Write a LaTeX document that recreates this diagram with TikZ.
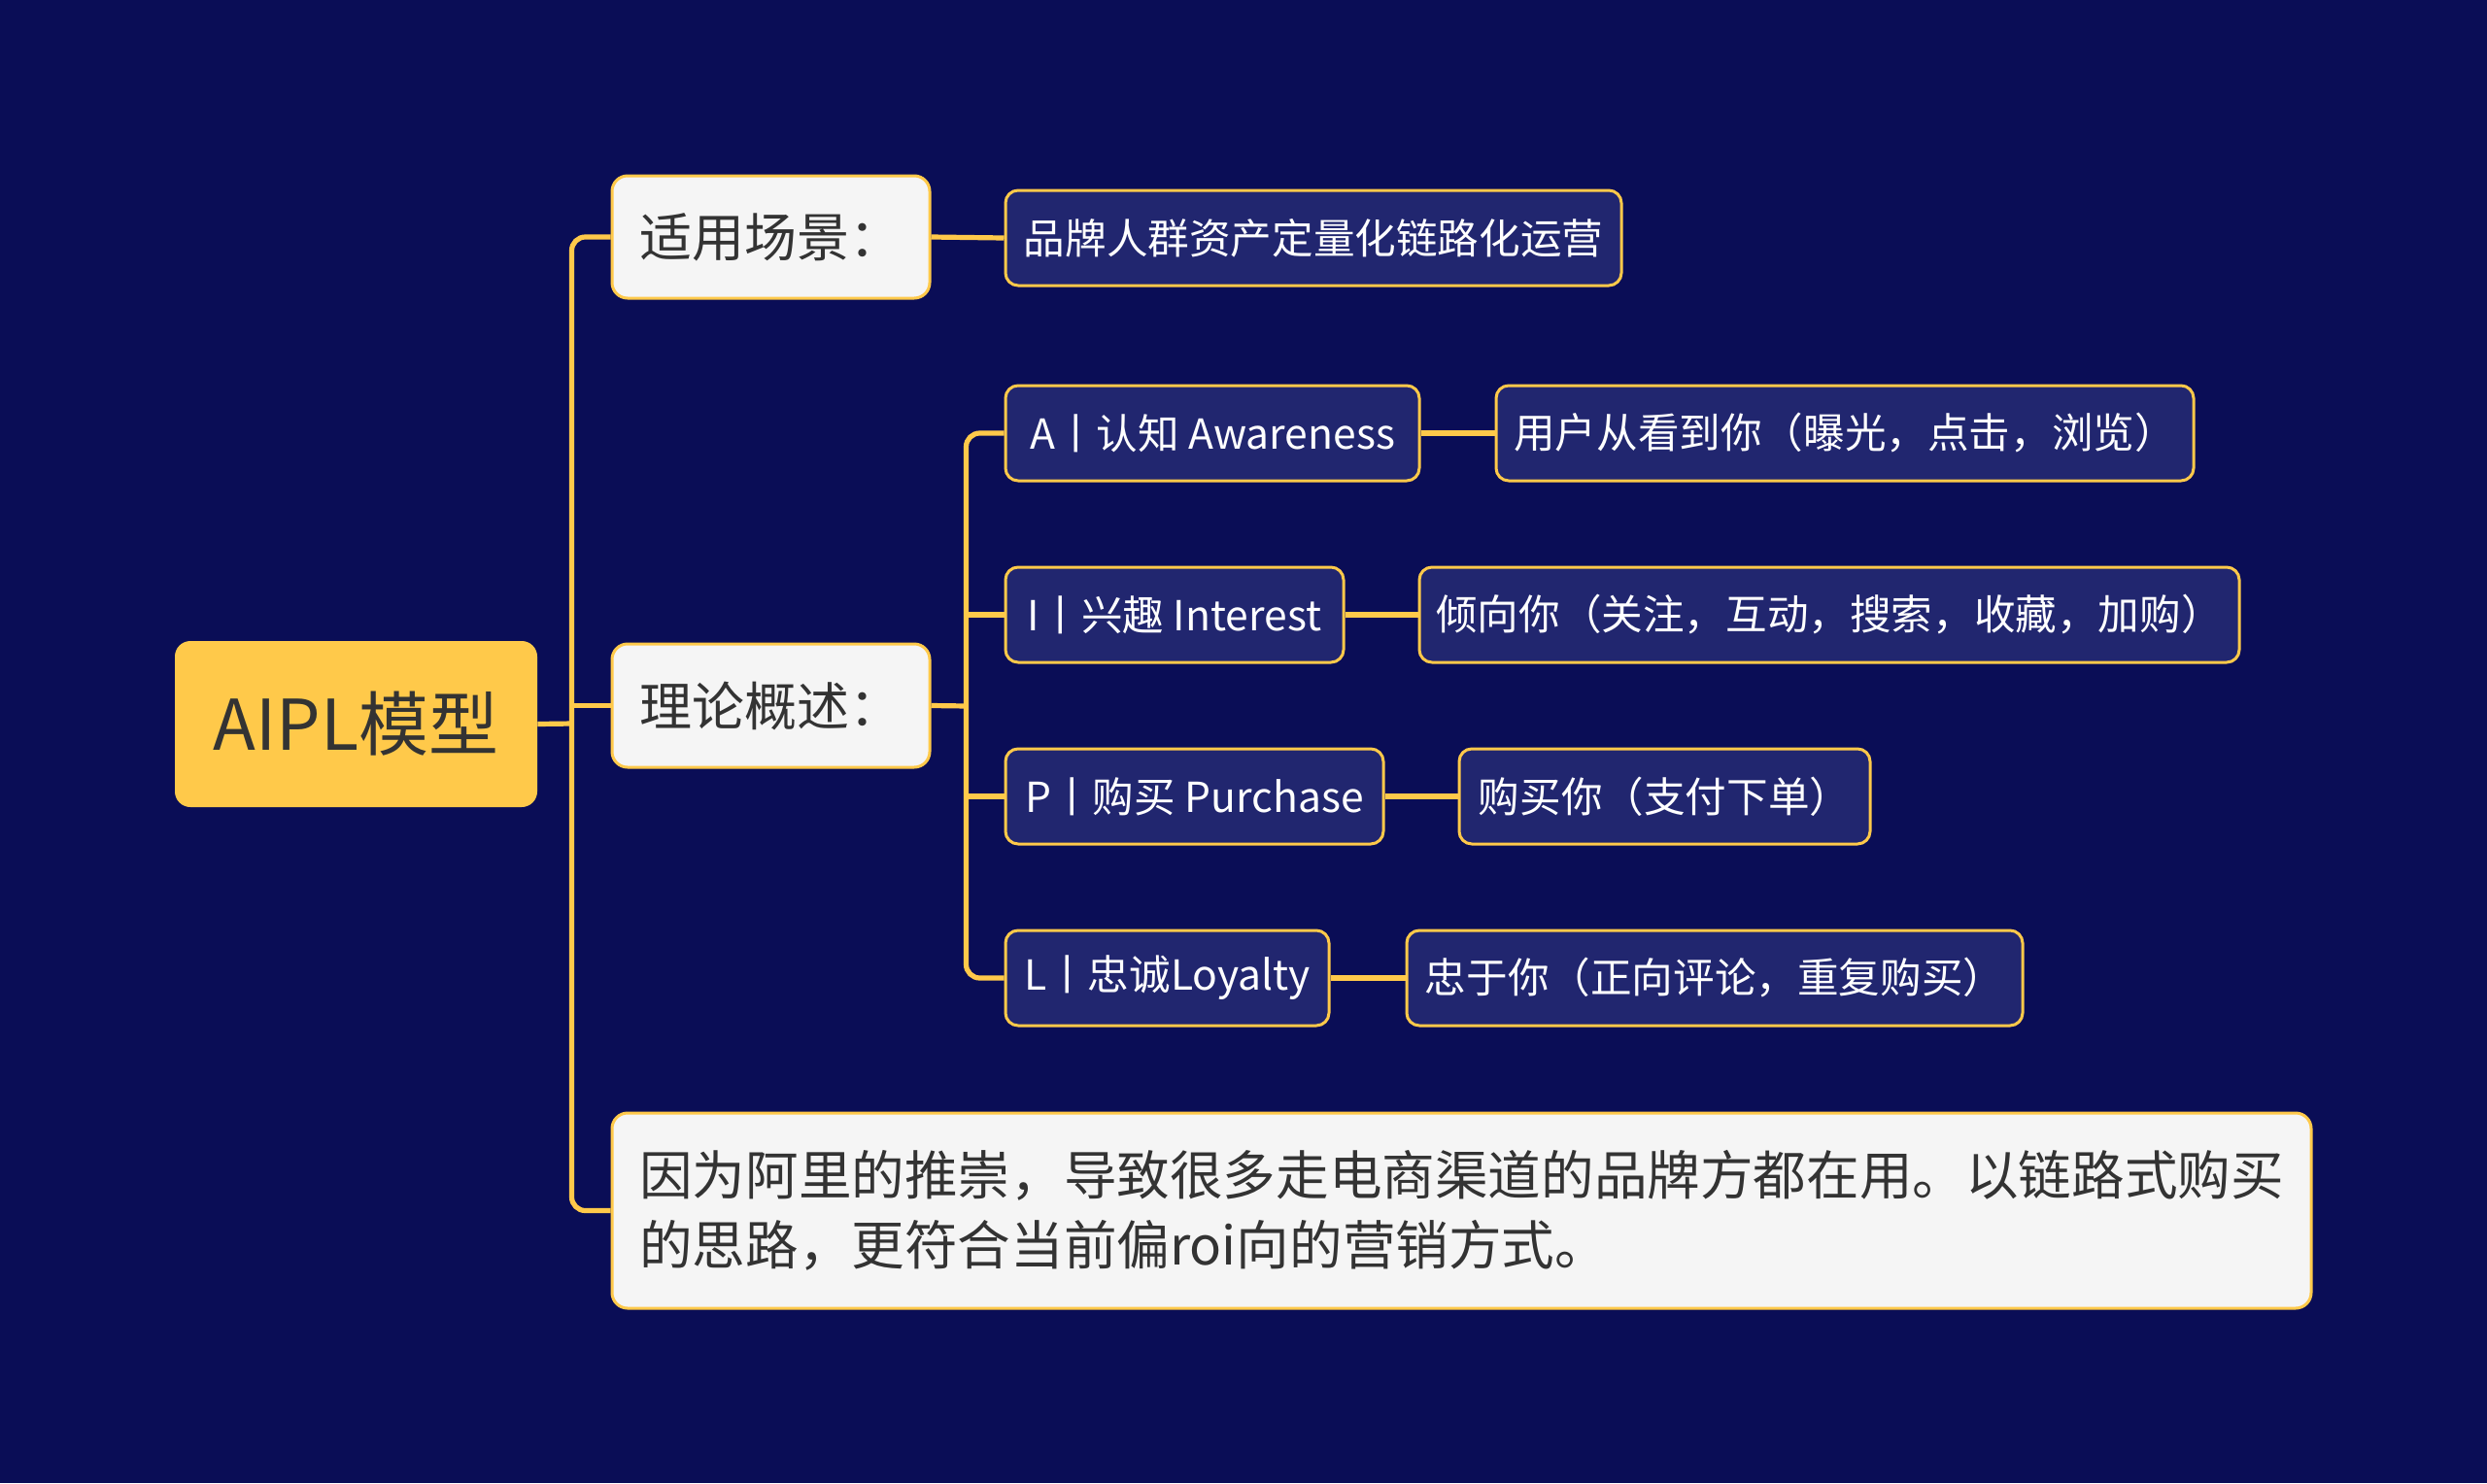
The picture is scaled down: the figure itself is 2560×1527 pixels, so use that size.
\documentclass[tikz,border=0pt]{standalone}
\usepackage{fontspec}
\setmainfont{Noto Sans CJK SC}
\definecolor{bgc}{HTML}{0A0D56}
\definecolor{yel}{HTML}{FFC94A}
\definecolor{lvtwo}{HTML}{21266F}
\definecolor{lite}{HTML}{F5F5F5}
\definecolor{dark}{HTML}{333333}
\tikzset{
  rootbox/.style={fill=yel, rounded corners=8pt, text=dark, inner sep=0pt,
    font=\fontsize{36}{42}\selectfont},
  lvone/.style={fill=lite, draw=yel, line width=1.5pt, rounded corners=8pt, text=dark,
    inner sep=0pt, font=\fontsize{27}{34}\selectfont},
  bigbox/.style={fill=lite, draw=yel, line width=1.5pt, rounded corners=8pt, text=dark,
    inner sep=0pt, align=left, font=\fontsize{27.3}{36}\selectfont},
  lvtwobox/.style={fill=lvtwo, draw=yel, line width=1.5pt, rounded corners=6.5pt, text=white,
    inner sep=0pt, minimum height=49pt, font=\fontsize{21.3}{26}\selectfont},
  link/.style={draw=yel, line width=2.6pt, rounded corners=7pt},
}
\begin{document}
\begin{tikzpicture}[x=0.5pt,y=-0.5pt]
\fill[bgc] (0,0) rectangle (2560,1527);
\useasboundingbox (0,0) rectangle (2560,1527);

\coordinate (trA) at (590,745);
\coordinate (trB) at (996,727);

\node[rootbox, minimum width=186.5pt, minimum height=85.5pt] (root) at (366.5,745.5) {AIPL模型};
\node[lvone, minimum width=163.5pt, minimum height=63pt] (s1) at (793.5,244) {适用场景：};
\node[lvone, minimum width=163.5pt, minimum height=63.5pt] (t2) at (793.5,726.5) {理论概述：};
\node[bigbox, minimum width=874.5pt, minimum height=100.5pt] (bot) at (1504.5,1246.5)
  {因为阿里的推崇，导致很多走电商渠道的品牌方都在用。以链路式购买\\的思路，更符合当前偏roi向的营销方式。};

\node[lvtwobox, minimum width=317pt] (b1) at (1352,245) {品牌人群资产定量化链路化运营};
\node[lvtwobox, minimum width=213pt] (a1) at (1248,446) {A丨认知 Awareness};
\node[lvtwobox, minimum width=359pt] (a2) at (1899,446) {用户从看到你（曝光，点击，浏览）};
\node[lvtwobox, minimum width=174pt] (i1) at (1209,633) {I丨兴趣 Interest};
\node[lvtwobox, minimum width=422pt] (i2) at (1883,633) {倾向你（关注，互动，搜索，收藏，加购）};
\node[lvtwobox, minimum width=194.5pt] (p1) at (1229.5,820) {P丨购买 Purchase};
\node[lvtwobox, minimum width=211.5pt] (p2) at (1713.5,820) {购买你（支付下单）};
\node[lvtwobox, minimum width=166.5pt] (l1) at (1201.5,1007) {L丨忠诚Loyalty};
\node[lvtwobox, minimum width=317pt] (l2) at (1765,1007) {忠于你（正向评论，重复购买）};

\draw[link] (s1.west) -- ++(-40,0) |- (bot.west);
\draw[link] (root.east) -- (trA);
\draw[link] (t2.west) -- ++(-40,0);
\draw[link] (t2.east) -- (trB);
\draw[link] (a1.west) -- ++(-39,0) |- (l1.west);
\draw[link] (i1.west) -- ++(-39,0);
\draw[link] (p1.west) -- ++(-39,0);
\draw[link] (s1.east) -- (b1.west);
\draw[link] (a1.east) -- (a2.west);
\draw[link] (i1.east) -- (i2.west);
\draw[link] (p1.east) -- (p2.west);
\draw[link] (l1.east) -- (l2.west);
\end{tikzpicture}
\end{document}
